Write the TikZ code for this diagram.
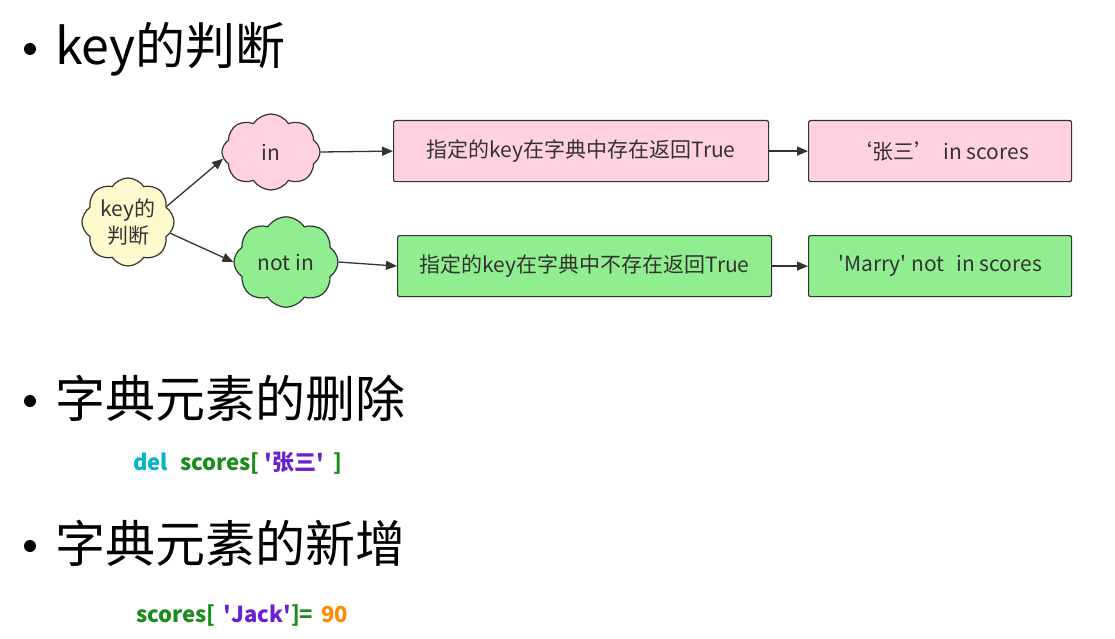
\documentclass[tikz,border=0pt]{standalone}
\usepackage{fontspec}
\setmainfont{Noto Sans CJK SC}
\newfontfamily\qf{Noto Sans CJK SC}[Ligatures=TeXOff]
\usetikzlibrary{shapes.symbols,arrows.meta}
\definecolor{pinkf}{HTML}{FFD1E3}
\definecolor{greenf}{HTML}{90EE90}
\definecolor{yellowf}{HTML}{FFFACD}
\definecolor{edge}{HTML}{333333}
\definecolor{cdel}{HTML}{00B4C8}
\definecolor{cgreen}{HTML}{1A8C1A}
\definecolor{cpurple}{HTML}{6A1FD0}
\definecolor{corange}{HTML}{FF8C00}
\newcommand\sq{{\qf\char"0027\relax}}
\tikzset{
  cloudnode/.style={shape=cloud, cloud puffs=8, cloud puff arc=115, draw=edge, line width=1.2pt, inner sep=0pt, font=\fontsize{21}{24}\selectfont, text=black!80},
  boxnode/.style={draw=edge, line width=1.2pt, rounded corners=2pt, minimum height=61pt, anchor=north west, inner sep=0pt, font=\fontsize{21}{24}\selectfont, text=black!80},
  conn/.style={-{Triangle[length=11pt,width=9pt]}, draw=edge, line width=1.3pt},
  heading/.style={anchor=base west, inner sep=0pt, font=\fontsize{50}{54}\selectfont},
  bulletdot/.style={circle, fill=black, inner sep=0pt, minimum size=12pt},
  codenode/.style={anchor=base west, inner sep=0pt, font=\bfseries\fontsize{22}{24}\selectfont}
}
\begin{document}
\begin{tikzpicture}[x=1pt,y=-1pt]
\useasboundingbox[fill=white] (0,0) rectangle (1115,639);
% headings
\node[bulletdot] (b1) at (30,49) {};
\node[heading] (h1) at (55,65) {key的判断};
\node[bulletdot] (b2) at (30,401) {};
\node[heading] (h2) at (55,417) {字典元素的删除};
\node[bulletdot] (b3) at (30,546) {};
\node[heading] (h3) at (55,562) {字典元素的新增};
% diagram
\node[cloudnode, fill=yellowf, minimum width=92pt, minimum height=78pt, align=center, font=\fontsize{21}{27}\selectfont] (key) at (128,222) {key的\\判断};
\node[cloudnode, fill=pinkf, minimum width=98pt, minimum height=76pt] (in) at (271,152) {in};
\node[cloudnode, fill=greenf, minimum width=104pt, minimum height=76pt] (notin) at (286,262) {not in};
\node[boxnode, fill=pinkf, minimum width=375pt] (p1) at (393,120) {指定的key在字典中存在返回True};
\node[boxnode, fill=pinkf, minimum width=263pt] (p2) at (808,120) {‘张三’\hspace{8pt}in scores};
\node[boxnode, fill=greenf, minimum width=374pt] (g1) at (397,235) {指定的key在字典中不存在返回True};
\node[boxnode, fill=greenf, minimum width=263pt] (g2) at (808,235) {\sq Marry\sq{} not\hspace{12pt}in scores};
\draw[conn] (key.22) -- (in.188);
\draw[conn] (key.-15) -- (notin.west);
\draw[conn] (in.east) -- (p1.west);
\draw[conn] (notin.east) -- (g1.west);
\draw[conn] (p1.east) -- (p2.west);
\draw[conn] (g1.east) -- (g2.west);
% code
\node[codenode] (c1) at (133,470) {\textcolor{cdel}{del}\hspace{12pt}\textcolor{cgreen}{scores[}\hspace{5pt}\textcolor{cpurple}{\sq 张三\sq}\hspace{10pt}\textcolor{cgreen}{]}};
\node[codenode] (c2) at (136,622) {\textcolor{cgreen}{scores[}\hspace{8pt}\textcolor{cpurple}{\sq Jack\sq}\textcolor{cgreen}{]=}\hspace{8pt}\textcolor{corange}{90}};
\end{tikzpicture}
\end{document}
